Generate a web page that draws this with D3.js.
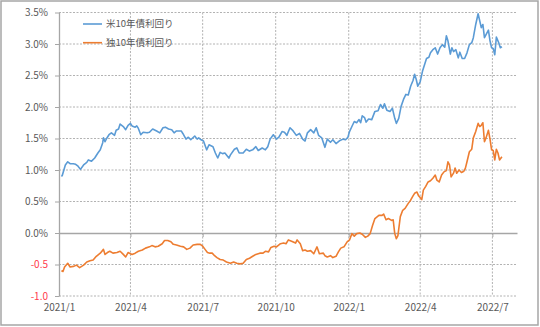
<!DOCTYPE html>
<html>
<head>
<meta charset="utf-8">
<script src="https://cdn.jsdelivr.net/npm/d3@7"></script>
<style>
  body { margin: 0; background: #fff; }
  text { font-family: "Noto Sans CJK JP", "Noto Sans", sans-serif; }
</style>
</head>
<body>
<script>
/* ------------------------------ Data ------------------------------ */
const usName = "米10年債利回り";
const deName = "独10年債利回り";

const usDates = [
  "2021-01-04","2021-01-05","2021-01-09","2021-01-12","2021-01-15","2021-01-19","2021-01-22","2021-01-25","2021-01-28",
  "2021-02-01","2021-02-05","2021-02-07","2021-02-11","2021-02-15","2021-02-19","2021-02-22","2021-02-25","2021-02-26","2021-02-28",
  "2021-03-02","2021-03-05","2021-03-08","2021-03-12","2021-03-14","2021-03-17","2021-03-19","2021-03-23","2021-03-26","2021-03-29",
  "2021-04-01","2021-04-03","2021-04-07","2021-04-09","2021-04-11","2021-04-14","2021-04-17","2021-04-22","2021-04-25","2021-04-29",
  "2021-05-04","2021-05-08","2021-05-12","2021-05-15","2021-05-19","2021-05-23","2021-05-26","2021-05-29",
  "2021-06-04","2021-06-06","2021-06-10","2021-06-13","2021-06-16","2021-06-21","2021-06-24","2021-06-26","2021-06-29",
  "2021-07-02","2021-07-06","2021-07-09","2021-07-14","2021-07-17","2021-07-20","2021-07-23","2021-07-26","2021-07-29",
  "2021-08-03","2021-08-05","2021-08-10","2021-08-13","2021-08-16","2021-08-21","2021-08-25","2021-08-29",
  "2021-09-02","2021-09-06","2021-09-09","2021-09-14","2021-09-18","2021-09-21","2021-09-24","2021-09-28",
  "2021-10-02","2021-10-05","2021-10-09","2021-10-12","2021-10-15","2021-10-19","2021-10-23","2021-10-27","2021-10-31",
  "2021-11-04","2021-11-07","2021-11-10","2021-11-14","2021-11-18","2021-11-21","2021-11-24","2021-11-28",
  "2021-12-02","2021-12-05","2021-12-09","2021-12-12","2021-12-16","2021-12-21","2021-12-25","2021-12-28","2021-12-31",
  "2022-01-02","2022-01-05","2022-01-08","2022-01-11","2022-01-14","2022-01-16","2022-01-18","2022-01-21","2022-01-23","2022-01-26","2022-01-30",
  "2022-02-03","2022-02-07","2022-02-10","2022-02-13","2022-02-15","2022-02-18","2022-02-22","2022-02-25","2022-02-28",
  "2022-03-02","2022-03-05","2022-03-08","2022-03-11","2022-03-14","2022-03-17","2022-03-20","2022-03-23","2022-03-25","2022-03-27","2022-03-29",
  "2022-04-01","2022-04-04","2022-04-07","2022-04-09","2022-04-12","2022-04-14","2022-04-17","2022-04-20","2022-04-23","2022-04-26","2022-04-29",
  "2022-05-02","2022-05-04","2022-05-06","2022-05-09","2022-05-11","2022-05-13","2022-05-16","2022-05-19","2022-05-21","2022-05-24","2022-05-27","2022-05-30",
  "2022-06-02","2022-06-05","2022-06-07","2022-06-10","2022-06-13","2022-06-15","2022-06-17","2022-06-19","2022-06-21","2022-06-23","2022-06-26","2022-06-28","2022-06-30",
  "2022-07-02","2022-07-04","2022-07-06","2022-07-09","2022-07-11","2022-07-13"
];
const usYield = [
  0.90,0.91,1.08,1.13,1.10,1.10,1.09,1.06,1.01,
  1.08,1.12,1.16,1.14,1.19,1.27,1.32,1.43,1.51,1.45,
  1.50,1.56,1.59,1.55,1.63,1.65,1.73,1.69,1.64,1.71,
  1.74,1.70,1.68,1.70,1.66,1.56,1.60,1.59,1.60,1.65,
  1.62,1.59,1.67,1.68,1.65,1.64,1.59,1.62,
  1.62,1.58,1.49,1.52,1.48,1.54,1.49,1.51,1.48,
  1.46,1.32,1.40,1.37,1.27,1.19,1.28,1.26,1.27,
  1.19,1.24,1.33,1.35,1.27,1.27,1.33,1.30,
  1.32,1.37,1.31,1.35,1.32,1.37,1.49,1.56,
  1.49,1.52,1.61,1.60,1.55,1.67,1.62,1.55,1.58,
  1.49,1.46,1.59,1.64,1.59,1.67,1.55,1.51,
  1.36,1.49,1.44,1.48,1.42,1.47,1.49,1.48,1.52,
  1.61,1.69,1.77,1.75,1.80,1.75,1.86,1.83,1.76,1.81,1.80,
  1.93,1.94,2.04,1.98,2.05,1.95,1.93,1.98,1.82,
  1.74,1.82,2.01,2.12,2.20,2.19,2.33,2.42,2.52,2.44,2.33,
  2.40,2.57,2.69,2.77,2.79,2.86,2.91,2.94,2.84,2.94,2.99,
  2.95,3.13,3.05,2.84,2.94,2.88,2.91,2.78,2.87,2.77,2.77,2.86,
  2.99,3.02,3.10,3.31,3.48,3.37,3.26,3.31,3.10,3.15,3.22,3.05,2.94,
  2.93,2.83,3.11,3.02,2.94,2.96
];

const deDates = [
  "2021-01-04","2021-01-06","2021-01-08","2021-01-12","2021-01-15","2021-01-19","2021-01-23","2021-01-27",
  "2021-02-01","2021-02-05","2021-02-09","2021-02-13","2021-02-17","2021-02-22","2021-02-26","2021-02-28",
  "2021-03-03","2021-03-06","2021-03-10","2021-03-15","2021-03-19","2021-03-23","2021-03-26","2021-03-29",
  "2021-04-03","2021-04-07","2021-04-11","2021-04-16","2021-04-20","2021-04-25","2021-04-28",
  "2021-05-02","2021-05-06","2021-05-11","2021-05-14","2021-05-18","2021-05-22","2021-05-25","2021-05-29",
  "2021-06-03","2021-06-07","2021-06-11","2021-06-15","2021-06-19","2021-06-24","2021-06-28",
  "2021-07-01","2021-07-04","2021-07-07","2021-07-10","2021-07-13","2021-07-16","2021-07-19","2021-07-23","2021-07-27","2021-07-31",
  "2021-08-05","2021-08-09","2021-08-13","2021-08-17","2021-08-21","2021-08-25","2021-08-29",
  "2021-09-02","2021-09-06","2021-09-11","2021-09-15","2021-09-18","2021-09-22","2021-09-25","2021-09-29",
  "2021-10-02","2021-10-07","2021-10-11","2021-10-14","2021-10-17","2021-10-21","2021-10-26","2021-10-28",
  "2021-11-01","2021-11-04","2021-11-07","2021-11-10","2021-11-14","2021-11-18","2021-11-22","2021-11-25","2021-11-30",
  "2021-12-02","2021-12-05","2021-12-09","2021-12-12","2021-12-16","2021-12-19","2021-12-22","2021-12-26","2021-12-30",
  "2022-01-02","2022-01-05","2022-01-08","2022-01-11","2022-01-15","2022-01-18","2022-01-22","2022-01-25","2022-01-28","2022-01-31",
  "2022-02-03","2022-02-08","2022-02-12","2022-02-14","2022-02-17","2022-02-20","2022-02-24","2022-02-26","2022-02-28",
  "2022-03-02","2022-03-04","2022-03-07","2022-03-10","2022-03-13","2022-03-17","2022-03-20","2022-03-23","2022-03-25","2022-03-28","2022-03-30",
  "2022-04-03","2022-04-05","2022-04-08","2022-04-11","2022-04-14","2022-04-17","2022-04-20","2022-04-22","2022-04-25","2022-04-28",
  "2022-05-01","2022-05-04","2022-05-06","2022-05-08","2022-05-10","2022-05-13","2022-05-15","2022-05-17","2022-05-20","2022-05-23","2022-05-26","2022-05-28","2022-05-30",
  "2022-06-02","2022-06-05","2022-06-07","2022-06-10","2022-06-13","2022-06-15","2022-06-17","2022-06-19","2022-06-21","2022-06-23","2022-06-26","2022-06-28","2022-06-30",
  "2022-07-02","2022-07-04","2022-07-06","2022-07-08","2022-07-10","2022-07-13"
];
const deYield = [
  -0.60,-0.61,-0.54,-0.48,-0.54,-0.53,-0.51,-0.55,
  -0.51,-0.46,-0.44,-0.43,-0.37,-0.32,-0.26,-0.34,
  -0.31,-0.29,-0.32,-0.31,-0.29,-0.34,-0.38,-0.31,
  -0.34,-0.32,-0.29,-0.27,-0.24,-0.22,-0.20,
  -0.22,-0.21,-0.17,-0.12,-0.12,-0.14,-0.18,-0.19,
  -0.21,-0.22,-0.26,-0.24,-0.19,-0.18,-0.18,
  -0.21,-0.26,-0.31,-0.32,-0.32,-0.36,-0.39,-0.42,-0.43,-0.46,
  -0.48,-0.46,-0.48,-0.49,-0.48,-0.42,-0.40,
  -0.37,-0.34,-0.32,-0.32,-0.29,-0.30,-0.23,-0.21,
  -0.22,-0.17,-0.16,-0.17,-0.11,-0.13,-0.16,-0.11,
  -0.17,-0.28,-0.27,-0.29,-0.28,-0.33,-0.22,-0.33,-0.32,
  -0.36,-0.38,-0.36,-0.39,-0.37,-0.30,-0.24,-0.22,-0.14,
  -0.11,-0.01,-0.05,-0.01,0.00,-0.02,-0.07,-0.05,-0.01,0.12,
  0.23,0.28,0.28,0.30,0.21,0.23,0.20,0.21,-0.01,
  -0.09,-0.04,0.26,0.36,0.39,0.47,0.52,0.59,0.63,0.65,0.59,
  0.53,0.68,0.74,0.81,0.83,0.87,0.92,0.84,0.81,0.92,
  0.97,0.99,1.13,1.08,0.89,0.95,1.03,0.95,1.00,0.96,0.98,1.03,1.13,
  1.29,1.33,1.51,1.61,1.74,1.69,1.71,1.75,1.45,1.51,1.63,1.49,1.32,
  1.31,1.16,1.33,1.27,1.16,1.21
];

const yTicks = [-1.0, -0.5, 0.0, 0.5, 1.0, 1.5, 2.0, 2.5, 3.0, 3.5];
const xTicks = ["2021-01-01","2021-04-01","2021-07-01","2021-10-01","2022-01-01","2022-04-01","2022-07-01"];
const xDomain = ["2021-01-01", "2022-08-01"];

/* ----------------------------- Layout ----------------------------- */
const width = 540, height = 327;
const plot = { left: 59, right: 517, top: 12.5, bottom: 296 };
const usColor = "#5B9BD5", deColor = "#ED7D31";
const labelColor = "#595959", negColor = "#FF3B4B";
const gridColor = "#b2b2b2", axisColor = "#a6a6a6";

const parse = d3.timeParse("%Y-%m-%d");
const usSeries = usDates.map((d, i) => ({ date: parse(d), value: usYield[i] }));
const deSeries = deDates.map((d, i) => ({ date: parse(d), value: deYield[i] }));

const svg = d3.select("body").append("svg")
  .attr("width", width)
  .attr("height", height);

svg.append("rect")
  .attr("x", 1).attr("y", 1)
  .attr("width", width - 3).attr("height", height - 3)
  .attr("fill", "#fff")
  .attr("stroke", "#a6a6a6")
  .attr("stroke-width", 1.5);

const x = d3.scaleTime().domain(xDomain.map(parse)).range([plot.left, plot.right]);
const y = d3.scaleLinear().domain([-1, 3.5]).range([plot.bottom, plot.top]);

/* ---------------------------- Gridlines --------------------------- */
svg.append("g")
  .selectAll("line")
  .data(yTicks.filter(v => v !== 0))
  .join("line")
  .attr("x1", plot.left).attr("x2", plot.right)
  .attr("y1", d => y(d)).attr("y2", d => y(d))
  .attr("stroke", gridColor)
  .attr("stroke-dasharray", "2,1.5");

svg.append("g")
  .selectAll("line")
  .data(xTicks.slice(1).map(parse))
  .join("line")
  .attr("x1", d => x(d)).attr("x2", d => x(d))
  .attr("y1", plot.top).attr("y2", plot.bottom)
  .attr("stroke", gridColor)
  .attr("stroke-dasharray", "2,1.5");

/* ------------------------------ Axes ------------------------------ */
const yAxis = svg.append("g")
  .attr("transform", `translate(${plot.left},0)`)
  .call(d3.axisLeft(y)
    .tickValues(yTicks)
    .tickSize(4)
    .tickSizeOuter(0)
    .tickPadding(7)
    .tickFormat(v => v < 0 ? v.toFixed(1) : v.toFixed(1) + "%"));
yAxis.select(".domain").attr("stroke", axisColor).attr("stroke-width", 1.3);
yAxis.selectAll(".tick line").attr("stroke", axisColor);
yAxis.selectAll(".tick text")
  .attr("font-size", 10)
  .attr("fill", d => d < 0 ? negColor : labelColor);

// horizontal axis line sits at 0%
const zeroAxis = svg.append("g")
  .attr("transform", `translate(0,${y(0)})`)
  .call(d3.axisBottom(x)
    .tickValues(xTicks.map(parse))
    .tickSize(4)
    .tickSizeOuter(0)
    .tickFormat(""));
zeroAxis.select(".domain").attr("stroke", axisColor).attr("stroke-width", 1.6);
zeroAxis.selectAll(".tick line").attr("stroke", axisColor);

// labels placed low, under the plot
const xAxis = svg.append("g")
  .attr("transform", `translate(0,${plot.bottom})`)
  .call(d3.axisBottom(x)
    .tickValues(xTicks.map(parse))
    .tickSize(0)
    .tickPadding(8)
    .tickFormat(d3.timeFormat("%Y/%-m")));
xAxis.select(".domain").remove();
xAxis.selectAll(".tick text")
  .attr("font-size", 10)
  .attr("fill", labelColor);

/* ------------------------------ Lines ----------------------------- */
const line = d3.line()
  .x(d => x(d.date))
  .y(d => y(d.value));

svg.append("path")
  .datum(deSeries)
  .attr("fill", "none")
  .attr("stroke", deColor)
  .attr("stroke-width", 1.6)
  .attr("stroke-linejoin", "round")
  .attr("d", line);

svg.append("path")
  .datum(usSeries)
  .attr("fill", "none")
  .attr("stroke", usColor)
  .attr("stroke-width", 1.6)
  .attr("stroke-linejoin", "round")
  .attr("d", line);

/* ----------------------------- Legend ----------------------------- */
const legend = svg.append("g")
  .selectAll("g")
  .data([{ name: usName, color: usColor }, { name: deName, color: deColor }])
  .join("g")
  .attr("transform", (d, i) => `translate(83,${24 + i * 18.7})`);

legend.append("line")
  .attr("x1", 0).attr("x2", 19)
  .attr("stroke", d => d.color)
  .attr("stroke-width", 1.6);

legend.append("text")
  .attr("x", 23)
  .attr("dy", "0.35em")
  .attr("font-size", 9.5)
  .attr("fill", labelColor)
  .text(d => d.name);
</script>
</body>
</html>
